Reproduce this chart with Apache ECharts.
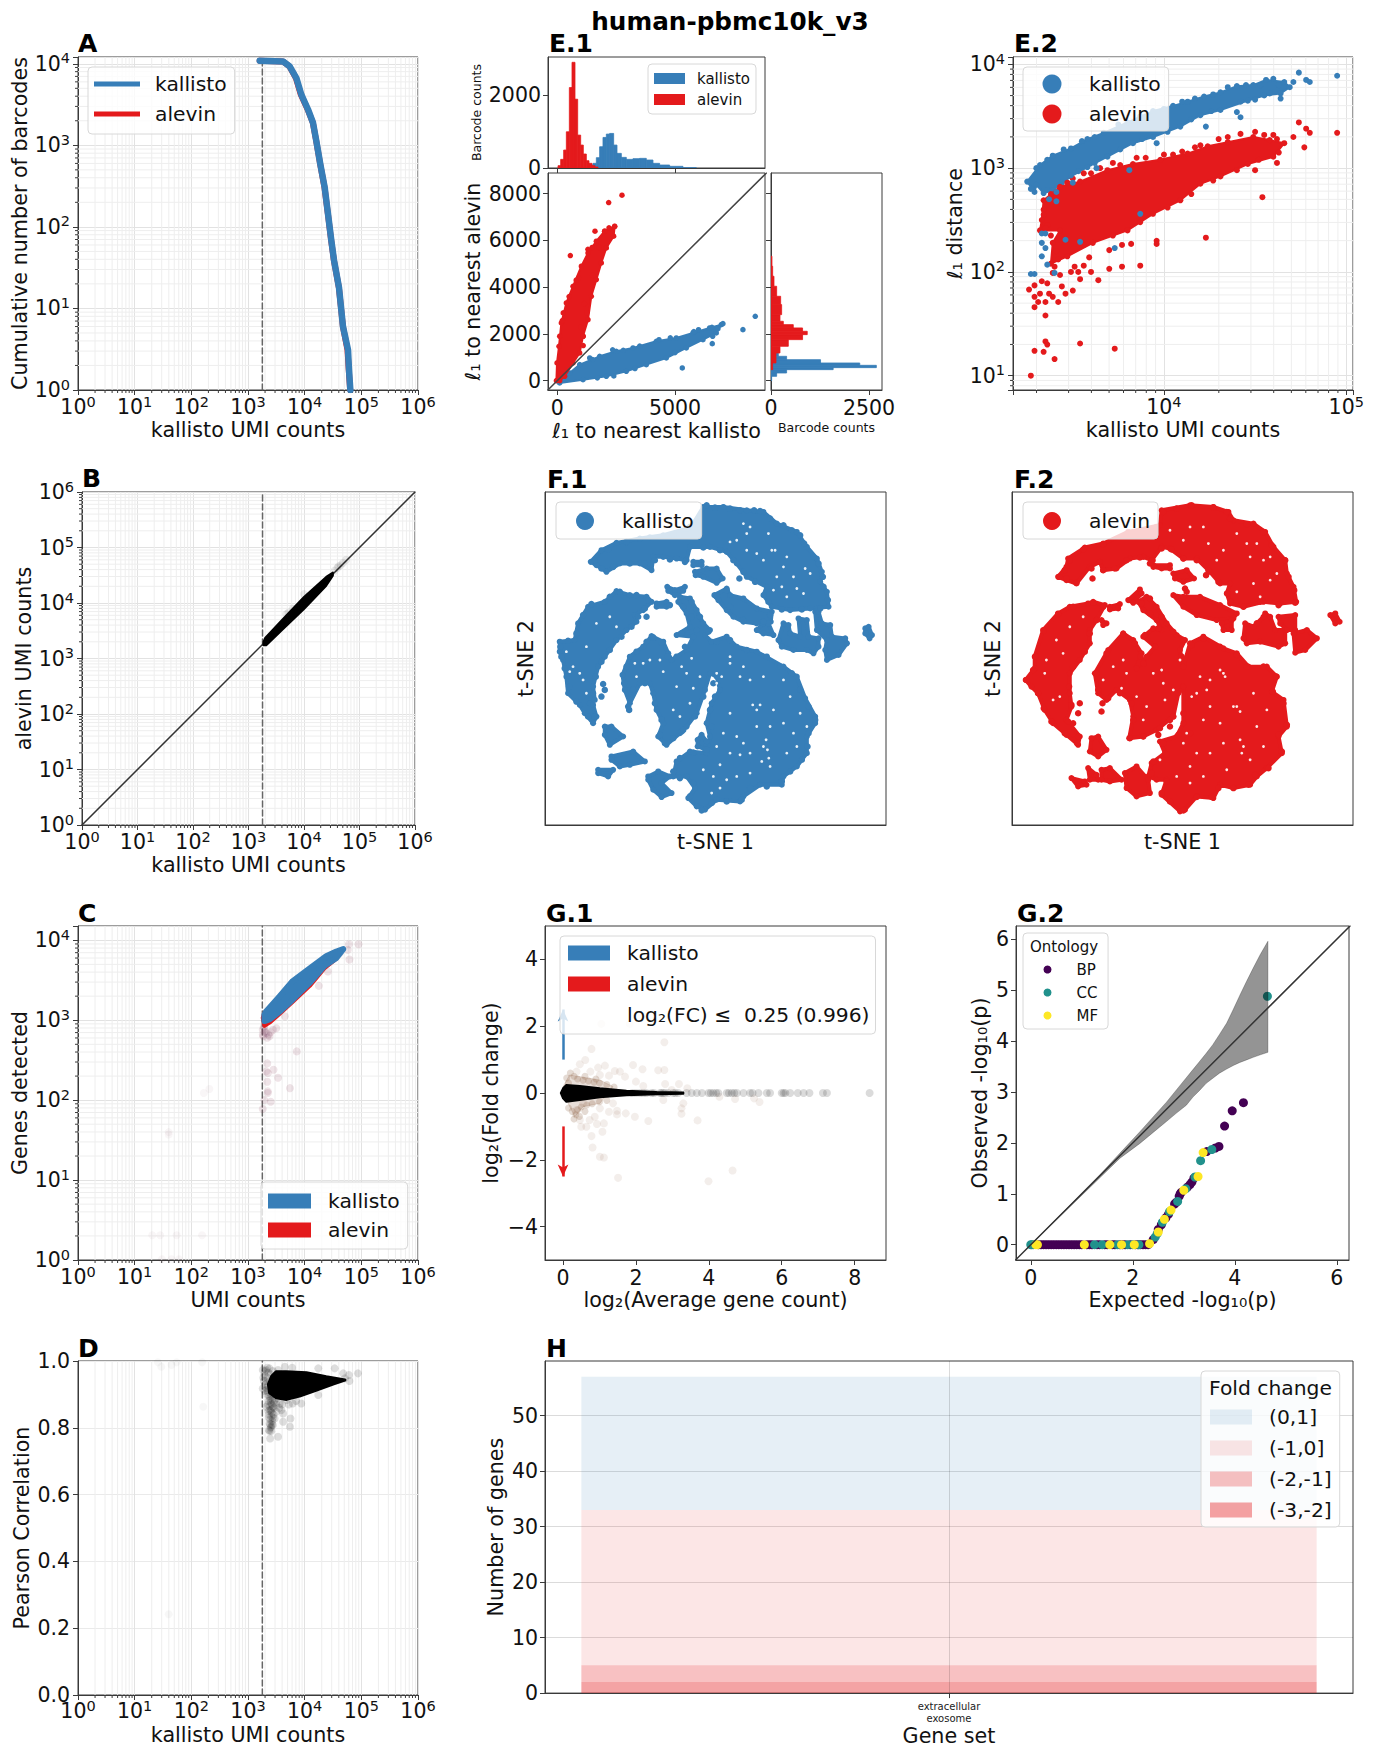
<!DOCTYPE html>
<html><head><meta charset="utf-8">
<style>html,body{margin:0;padding:0;background:#fff}#c{width:1377px;height:1747px}</style>
<script src="https://cdn.jsdelivr.net/npm/echarts@6/dist/echarts.min.js"></script>
</head><body><div id="c"></div>
<script>
const BLUE='#377eb8', RED='#e41a1c', PURPLE='#440154', TEAL='#21918c', YEL='#fde725';
const FONT='DejaVu Sans';
const cutoffUMI=1790;

// ---------- A: cumulative barcodes (UMI, rank)
const aKallisto=[[1607,10880],[4150,10670],[5436,9280],[7130,6686],[8730,4188],[11450,2748],[14030,1890],[16060,1130],[18890,587],[22540,305],[25800,144],[29560,68],[32950,39],[40360,18],[44360,9.5],[47440,6],[58200,3.1],[60570,1.77],[63970,1]];
const aAlevin=[[1607,10880],[4130,10670],[5380,9280],[7000,6686],[8550,4188],[11300,2748],[13950,1890],[16000,1130],[18800,587],[22400,305],[25700,144],[29400,68],[32800,39],[40200,18],[44200,9.5],[47300,6],[57000,3.1],[60000,1.77],[63500,1]];

// ---------- B: kallisto vs alevin band (log10 values)
const bBand=[[3.27,3.24],[3.32,3.24],[3.6,3.51],[4.0,3.89],[4.4,4.31],[4.52,4.49],[4.52,4.55],[4.4,4.47],[4.0,4.11],[3.6,3.69],[3.3,3.37],[3.27,3.3]];
const bFaint=[[4.55,4.58],[4.6,4.63],[4.62,4.66],[4.66,4.68],[4.7,4.72],[4.76,4.78],[3.72,3.83],[3.8,3.9],[3.68,3.8],[4.0,4.16]];

// ---------- C: genes detected (log10 values)
const cBlue=[[3.29,3.07],[3.32,3.11],[3.56,3.3],[3.79,3.49],[4.09,3.65],[4.38,3.8],[4.56,3.86],[4.68,3.89],[4.56,3.78],[4.35,3.68],[4.09,3.47],[3.79,3.26],[3.56,3.11],[3.38,3.01],[3.29,2.99]];
const cRed=[[3.26,3.03],[3.29,3.09],[3.56,3.28],[3.79,3.47],[4.09,3.63],[4.38,3.78],[4.56,3.84],[4.56,3.77],[4.35,3.65],[4.09,3.43],[3.79,3.23],[3.56,3.08],[3.38,2.97],[3.29,2.93]];
const cNear=[[3.26,2.82],[3.32,2.84],[3.38,2.8],[3.29,2.9],[3.44,2.88],[3.5,2.9],[3.65,3.05],[3.27,2.8],[3.3,2.86],[3.36,2.82],[3.4,2.85],[3.28,2.92],[3.34,2.78],[3.26,2.88],[3.34,2.46],[3.32,2.36],[3.35,2.34],[3.45,2.38],[3.53,2.28],[3.34,2.23],[3.35,2.11],[3.35,2.09],[3.4,1.98],[3.29,2.0],[3.26,1.89],[3.74,2.15],[3.86,2.61],[4.78,3.95],[4.95,3.95],[4.76,3.88],[4.79,3.76],[4.62,3.84],[4.41,3.61],[4.25,3.43]];
const cFar=[[2.32,2.14],[2.22,2.09],[1.6,1.6],[1.6,1.57],[1.31,0.31],[1.45,0.31],[1.74,0.31],[2.19,0.31],[1.48,0.01],[1.65,0.01],[1.78,0.01]];

// ---------- D: Pearson correlation (log10 UMI, r)
const dCloud=[[3.42,0.955],[3.5,0.968],[3.68,0.968],[4.03,0.965],[4.38,0.953],[4.71,0.943],[4.5,0.931],[4.21,0.913],[3.91,0.895],[3.68,0.885],[3.5,0.89],[3.38,0.905],[3.36,0.93]];
const dNear=[[3.32,0.973],[3.38,0.978],[3.26,0.973],[3.35,0.908],[3.39,0.883],[3.47,0.883],[3.32,0.863],[3.56,0.873],[3.44,0.863],[3.38,0.853],[3.5,0.848],[3.41,0.833],[3.47,0.828],[3.38,0.813],[3.41,0.803],[3.44,0.808],[3.37,0.793],[3.39,0.768],[3.53,0.773],[3.62,0.818],[3.74,0.803],[3.75,0.828],[3.62,0.843],[3.94,0.873],[4.24,0.898],[4.53,0.978],[4.24,0.978],[3.65,0.983],[3.78,0.98],[4.68,0.963],[4.78,0.958],[4.79,0.94],[4.94,0.963],[4.71,0.948],[3.53,0.973],[3.26,0.918],[3.32,0.913],[3.41,0.898],[3.59,0.853],[3.68,0.883],[3.79,0.873],[3.36,0.88],[3.42,0.87],[3.4,0.85],[3.45,0.84],[3.37,0.83],[3.43,0.82],[3.39,0.81],[3.41,0.79],[3.35,0.87],[3.5,0.87],[3.46,0.86],[3.36,0.85],[3.39,0.89],[3.44,0.9],[3.52,0.89],[3.3,0.97],[3.34,0.98],[3.36,0.965],[3.29,0.96],[3.31,0.93],[3.28,0.94],[3.33,0.92],[3.3,0.91],[3.37,0.895],[3.34,0.9],[3.4,0.875],[3.43,0.885],[3.46,0.875],[3.38,0.865],[3.41,0.855],[3.37,0.84],[3.42,0.845],[3.39,0.825],[3.42,0.81],[3.4,0.8],[3.38,0.79],[3.44,0.83],[3.38,0.94],[3.34,0.95],[3.4,0.96],[3.44,0.97],[3.27,0.95],[3.32,0.94],[3.35,0.925],[3.6,0.87],[3.55,0.86],[3.72,0.87],[3.85,0.88],[3.48,0.95]];
const dFar=[[2.21,0.863],[1.6,0.242],[1.47,0.983],[1.65,0.988],[1.41,0.996],[1.74,0.996],[2.19,0.996]];

// ---------- E.1 histogram bins: edges and barcode counts
const e1TopRedEdges=[28,142,269,382,510,623,750,864,991,1104,1232,1345,1473,1600,1728];
const e1TopRedCounts=[64,237,493,995,2210,2904,1890,904,630,384,200,128,64,27];
const e1TopBlueEdges=[1373,1515,1657,1798,1940,2082,2223,2393,2535,2719,2931,3214,3497,3781,4064,4347,4772,5338,5905];
const e1TopBlueCounts=[82,128,283,584,840,932,950,630,402,292,237,256,265,219,128,82,46,9];
const e1RightRedEdges=[5323,4895,4467,4038,3610,3254,2825,2540,2397,2255,2112,1969,1755,1470,1184,756,471];
const e1RightRedCounts=[25,42,76,144,246,271,229,314,568,805,924,805,441,229,127,42];
const e1RightBlueEdges=[1256,1042,899,756,656,557,471,328,185,0];
const e1RightBlueCounts=[186,398,1263,2263,2686,1585,398,144,17];
// ---------- E.1 main scatter (l1 to nearest kallisto, l1 to nearest alevin)
const e1RedCloud=[[-40,0],[-14,756],[70,1470],[170,2469],[382,3325],[665,4038],[1020,4895],[1303,5465],[1657,5965],[2011,6393],[2436,6607],[2393,6179],[2082,5679],[1869,5037],[1657,4324],[1444,3610],[1303,2611],[1090,1898],[949,1184],[665,756],[312,186],[99,0]];
const e1BlueCloud=[[0,0],[524,328],[949,685],[1798,1042],[2507,1256],[3214,1398],[4205,1684],[5055,1827],[5763,2041],[6471,2255],[6967,2397],[6754,2041],[6188,1755],[5480,1398],[4630,970],[3780,685],[2931,399],[2082,185],[1090,43],[99,-100]];
const e1BlueOut=[[1374,970],[5310,542],[6584,1584],[7887,2183],[8411,2754],[7037,2440],[6825,2226],[6570,2283],[4320,1750],[5800,2100],[3500,1480],[2350,1320],[2400,200],[1500,900],[2800,1300],[4800,1830],[6000,2180],[6600,1900],[5000,1200],[3300,520],[1700,120]];
const e1RedOut=[[2747,7934],[2181,7620],[552,5351],[1600,6393],[2436,6593],[2011,6393],[2195,6536],[212,2569],[1480,5700],[1300,5620],[900,4400],[1250,2900],[1100,1900],[500,3600],[800,4300],[1500,4500],[1150,3300],[100,1900],[1000,2300],[250,2900],[1780,5700],[1100,1500]];

// ---------- E.2 (log10 UMI, log10 l1 distance)
const e2BlueCloud=[[3.32,3.03],[3.39,3.12],[3.49,3.19],[3.58,3.28],[3.67,3.34],[3.8,3.44],[3.94,3.55],[4.05,3.6],[4.13,3.64],[4.22,3.69],[4.31,3.73],[4.4,3.79],[4.49,3.8],[4.56,3.85],[4.66,3.83],[4.69,3.78],[4.64,3.72],[4.55,3.7],[4.46,3.65],[4.31,3.56],[4.2,3.51],[4.09,3.4],[3.94,3.3],[3.83,3.24],[3.69,3.11],[3.58,3.01],[3.49,2.92],[3.39,2.79],[3.34,2.76],[3.3,2.84],[3.29,2.77],[3.25,2.87]];
const e2BlueEdge=[[3.3,3.0],[3.36,3.08],[3.45,3.18],[3.55,3.26],[3.62,3.3],[3.75,3.42],[3.87,3.5],[4.0,3.57],[4.1,3.64],[4.17,3.67],[4.27,3.71],[4.35,3.78],[4.45,3.8],[4.53,3.8],[4.6,3.86],[4.63,3.8],[4.58,3.72],[4.5,3.66],[4.42,3.64],[4.26,3.55],[4.15,3.47],[4.02,3.35],[3.88,3.28],[3.76,3.18],[3.62,3.05],[3.53,2.97],[3.44,2.86],[3.36,2.79],[3.27,2.8]];
const e2BlueOut=[[4.74,3.92],[4.95,3.89],[4.78,3.85],[4.8,3.83],[4.71,3.83],[4.23,3.4],[3.96,3.24],[4.42,3.49],[4.4,3.54],[4.64,3.67],[3.81,2.98],[3.63,3.0],[3.49,2.93],[3.5,2.86],[3.41,2.77],[3.37,2.7],[3.41,2.68],[3.87,2.56],[3.33,2.37],[3.35,2.37],[3.33,2.28],[3.35,2.23],[3.33,2.15],[3.36,2.07],[3.27,1.98],[3.29,1.98],[3.4,1.99],[3.46,2.31],[3.54,2.29],[3.73,2.23]];
const e2RedCloud=[[3.33,2.5],[3.34,2.69],[3.43,2.82],[3.54,2.87],[3.69,2.98],[3.83,3.04],[3.98,3.08],[4.13,3.14],[4.24,3.21],[4.35,3.25],[4.49,3.3],[4.58,3.27],[4.66,3.24],[4.6,3.11],[4.46,3.04],[4.31,2.92],[4.2,2.85],[4.09,2.69],[3.94,2.56],[3.8,2.4],[3.61,2.28],[3.47,2.15],[3.38,2.08],[3.39,2.28],[3.43,2.4],[3.32,2.4]];
const e2RedEdge=[[3.34,2.6],[3.38,2.75],[3.47,2.86],[3.5,2.9],[3.6,2.95],[3.65,3.0],[3.76,3.03],[3.9,3.1],[4.05,3.13],[4.1,3.16],[4.2,3.22],[4.3,3.28],[4.42,3.33],[4.55,3.32],[4.62,3.28],[4.63,3.15],[4.52,3.08],[4.4,2.98],[4.27,2.88],[4.15,2.75],[4.02,2.62],[3.87,2.48],[3.72,2.35],[3.56,2.26],[3.42,2.12],[3.41,2.2],[3.36,2.45],[3.34,2.55],[3.38,2.35],[3.35,2.42]];
const e2RedOut=[[4.74,3.44],[4.78,3.38],[4.8,3.34],[4.95,3.34],[4.71,3.3],[4.77,3.2],[4.54,2.72],[4.23,2.33],[3.96,2.3],[3.96,2.27],[3.82,2.27],[3.77,2.26],[3.7,2.21],[3.59,2.14],[3.87,2.06],[3.77,2.05],[3.7,2.03],[3.56,2.06],[3.51,2.05],[3.6,2.0],[3.49,2.0],[3.53,2.0],[3.43,1.97],[3.64,1.92],[3.54,1.93],[3.44,1.86],[3.5,1.82],[3.46,1.79],[3.42,1.71],[3.39,1.76],[3.36,1.89],[3.33,1.91],[3.29,1.87],[3.26,1.83],[3.29,1.76],[3.32,1.79],[3.37,1.79],[3.29,1.66],[3.35,1.58],[3.35,1.33],[3.36,1.3],[3.54,1.31],[3.73,1.26],[3.29,1.24],[3.34,1.23],[3.4,1.16],[3.27,1.0],[3.31,1.71],[3.35,1.71],[3.39,1.99],[3.4,2.05],[3.72,3.05],[3.85,3.1],[4.0,3.13],[4.17,3.2],[4.35,3.3],[4.5,3.35],[4.6,3.32],[3.56,2.95],[4.5,2.98],[4.62,3.05]];

// ---------- F.1 t-SNE clusters (arbitrary embedding units, y grows downward)
const f1Clusters=[
[[183,305],[215,270],[260,248],[330,235],[400,225],[470,205],[490,190],[520,140],[580,140],[650,150],[700,155],[740,190],[800,215],[830,260],[860,295],[875,335],[870,365],[890,395],[895,440],[840,445],[780,450],[725,440],[700,405],[710,380],[650,350],[620,310],[590,275],[540,260],[480,260],[470,300],[440,295],[400,290],[370,290],[365,330],[330,310],[270,310],[230,335],[200,315]],
[[490,305],[515,305],[515,315],[490,315]],
[[495,335],[530,325],[560,325],[578,355],[560,368],[520,350],[497,345]],
[[412,380],[435,390],[465,380],[460,392],[435,405],[415,392]],
[[553,405],[590,385],[600,405],[640,415],[680,445],[725,455],[722,485],[680,490],[640,485],[610,470],[590,450],[565,420]],
[[380,430],[410,425],[410,440],[380,440]],
[[745,540],[760,490],[775,495],[780,520],[810,530],[805,475],[830,480],[835,530],[865,535],[865,560],[850,580],[830,570],[790,570],[755,560]],
[[855,455],[865,455],[875,490],[900,495],[905,530],[945,535],[950,550],[925,585],[890,600],[885,570],[890,540],[860,510]],
[[1005,505],[1015,500],[1025,525],[1018,535],[1005,520]],
[[680,510],[700,490],[715,490],[730,525],[700,520]],
[[90,545],[135,540],[145,490],[175,440],[225,425],[260,393],[300,405],[350,410],[365,425],[340,450],[315,465],[320,485],[290,510],[260,540],[225,590],[205,620],[190,680],[195,720],[180,730],[190,735],[200,770],[190,790],[165,760],[150,735],[115,700],[110,650],[100,600],[90,575]],
[[365,528],[400,545],[415,580],[425,600],[470,570],[490,530],[440,525],[480,500],[470,460],[445,425],[450,410],[480,415],[500,450],[520,490],[540,510],[525,525],[545,545],[590,530],[620,560],[680,575],[760,620],[800,650],[825,715],[855,770],[855,790],[830,830],[830,880],[800,920],[760,950],[755,975],[690,975],[640,1010],[630,1025],[560,1020],[525,1050],[500,1040],[475,1015],[495,985],[470,950],[430,950],[440,905],[480,875],[530,880],[540,830],[530,790],[545,730],[570,690],[560,650],[540,640],[525,690],[500,760],[470,800],[450,820],[410,855],[385,830],[400,790],[380,750],[370,700],[360,670],[330,670],[300,730],[285,690],[278,645],[300,590],[340,560]],
[[225,800],[245,800],[280,830],[240,855],[225,825]],
[[245,890],[310,875],[345,905],[300,915],[270,920],[245,900]],
[[205,930],[250,930],[235,950],[205,940]],
[[355,950],[385,935],[420,950],[395,970],[425,1000],[395,1012],[370,990],[355,960]],
[[503,840],[515,825],[530,845],[525,868],[503,860]]
];
const f1Dots=[[220,672],[225,690],[215,710],[350,470],[628,355],[298,750],[455,815],[420,435],
[530,135],[555,142],[600,145],[630,150],[672,150],[690,152],[720,175],[760,195],[785,210],[810,225],[822,250],[850,290],[865,310],[878,350],[880,380],[893,420],[870,445],[815,448],[755,448],[715,425],[675,365],[640,335],[610,300],[570,270],[520,262],[465,305],[420,298],[375,300],[345,310],[300,310],[250,320],[215,325],[195,300],[235,268],[290,245],[360,232],[430,222],[480,200],
[92,560],[115,542],[140,520],[160,465],[185,432],[240,410],[270,395],[320,405],[355,420],[345,445],[325,470],[305,500],[275,530],[240,570],[215,605],[198,650],[190,700],[195,770],[175,770],[140,725],[118,680],[105,625],[95,590],
[370,532],[395,548],[413,590],[440,590],[465,560],[455,520],[500,510],[485,470],[460,440],[485,425],[510,470],[535,515],[560,545],[600,540],[650,570],[710,590],[750,620],[785,640],[810,690],[835,740],[855,780],[835,820],[832,860],[815,900],[780,935],[755,965],[710,980],[660,985],[635,1020],[590,1025],[545,1030],[515,1052],[480,1010],[490,970],[450,955],[430,935],[450,895],[490,878],[530,870],[545,800],[540,750],[555,710],[550,670],[520,710],[495,770],[460,810],[430,835],[405,850],[390,825],[395,780],[375,730],[345,670],[310,690],[295,740],[283,670],[290,620],[320,575],[350,545],
[640,480],[700,485],[720,465],[600,440],[560,410],[590,390]];
const f1Gaps=[[640,190],[715,220],[600,245],[650,270],[735,270],[770,290],[800,385],[740,350],[825,325],[755,380],[110,575],[150,640],[160,660],[360,600],[485,595],[430,750],[490,685],[575,650],[630,650],[560,670],[680,750],[730,750],[640,850],[700,860],[630,885],[695,905],[570,915],[590,960],[570,985],[545,1000],[790,820],[830,800],[600,590],[455,620],[400,635],[315,610],[708,840],[712,870],[716,895],[668,735],[690,735],[725,270],[660,200],[560,640],[120,635],
[650,220],[620,240],[680,280],[700,300],[760,320],[790,350],[840,340],[820,400],[770,410],[730,390],[200,490],[240,470],[260,500],[170,560],[130,620],[170,700],[340,610],[390,600],[320,650],[470,640],[440,680],[510,650],[480,730],[450,770],[600,610],[640,620],[660,660],[700,650],[760,660],[780,710],[810,760],[760,790],[720,800],[680,800],[600,760],[580,820],[620,830],[660,880],[600,880],[560,860],[520,930],[550,950],[620,950],[660,940],[720,920],[770,880],[800,860]];

// ---------- F.2 t-SNE clusters
const f2Clusters=[
[[265,350],[290,320],[295,295],[345,262],[400,250],[475,215],[570,195],[575,150],[660,135],[730,140],[775,155],[790,180],[850,190],[885,215],[910,260],[945,300],[950,340],[970,380],[978,425],[930,430],[880,425],[820,440],[780,430],[770,400],[780,370],[750,370],[720,335],[680,295],[640,295],[600,265],[575,260],[545,300],[520,290],[480,295],[440,325],[400,330],[390,305],[360,320],[320,370],[290,360]],
[[550,315],[600,315],[600,325],[575,325],[550,320]],
[[610,340],[650,330],[672,355],[640,365],[615,355]],
[[475,420],[510,388],[515,400],[490,428]],
[[610,405],[640,410],[690,410],[750,435],[800,460],[790,475],[740,480],[680,465],[640,440]],
[[420,440],[450,432],[445,445],[420,448]],
[[825,490],[850,500],[880,470],[885,460],[900,470],[915,510],[945,510],[945,550],[925,560],[870,545],[830,550],[820,535]],
[[925,470],[975,465],[975,510],[950,510],[930,490]],
[[970,520],[1010,510],[1040,535],[1005,570],[975,578]],
[[1080,465],[1095,460],[1108,485],[1095,490]],
[[755,490],[785,480],[785,510],[760,510]],
[[168,660],[195,625],[195,590],[220,510],[265,460],[300,440],[355,430],[370,425],[405,435],[380,480],[360,510],[360,550],[330,600],[300,640],[300,700],[305,740],[290,780],[330,830],[325,855],[290,825],[250,790],[225,750],[205,700],[185,680]],
[[395,480],[410,490],[400,495]],
[[375,640],[415,570],[460,520],[490,540],[515,580],[500,625],[530,590],[555,560],[520,530],[550,505],[575,510],[560,480],[520,450],[505,425],[530,410],[560,440],[590,490],[620,525],[645,540],[630,570],[640,620],[660,550],[700,530],[760,565],[800,580],[835,620],[890,620],[920,650],[905,695],[940,720],[950,800],[925,830],[935,880],[890,925],[860,950],[840,975],[790,985],[750,975],[730,1015],[680,1010],[645,1050],[630,1055],[575,1005],[590,960],[560,960],[535,950],[545,910],[585,880],[570,845],[620,830],[640,790],[640,680],[625,700],[610,770],[560,810],[520,830],[478,835],[490,770],[480,720],[440,690],[410,720],[385,700]],
[[365,835],[385,830],[410,870],[385,890],[360,875]],
[[305,955],[345,965],[350,975],[325,980]],
[[355,925],[380,945],[385,960],[360,960]],
[[395,930],[420,925],[455,960],[420,965],[395,960]],
[[465,940],[500,920],[535,960],[540,1000],[500,1010],[470,985]]
];
const f2Dots=[[330,730],[325,760],[310,790],[398,730],[395,755],[708,345],[600,780],[600,800],[565,825],[660,820],[645,385],[650,395],[540,310],[368,355],[580,850],[590,965],[860,490],
[300,300],[340,268],[400,252],[470,222],[560,200],[580,155],[620,145],[665,135],[730,142],[770,155],[780,175],[830,192],[880,215],[905,255],[945,300],[955,350],[972,390],[975,428],[925,435],[870,425],[820,440],[782,425],[772,400],[745,365],[715,330],[680,300],[640,295],[605,268],[575,265],[548,300],[510,292],[470,300],[435,325],[400,330],[365,325],[320,368],[290,355],[268,350],[285,330],
[170,660],[190,630],[197,590],[222,512],[265,462],[310,440],[370,428],[400,440],[380,480],[360,520],[345,575],[310,620],[298,680],[305,735],[295,785],[325,830],[322,850],[285,820],[245,785],[222,745],[205,700],
[380,640],[410,580],[460,522],[495,550],[512,590],[520,610],[555,560],[525,525],[565,505],[540,460],[515,430],[540,415],[575,470],[610,515],[640,540],[635,590],[665,555],[700,535],[750,560],[800,585],[830,620],[880,620],[918,650],[908,695],[940,730],[950,795],[925,825],[935,875],[895,925],[855,945],[835,975],[790,985],[745,985],[725,1012],[680,1012],[640,1052],[600,1025],[575,1000],[545,940],[550,905],[590,885],[625,825],[640,760],[610,770],[570,805],[520,830],[480,835],[490,780],[485,730],[450,700],[415,715],[385,690]];
const f2Gaps=[[760,270],[715,250],[740,300],[880,300],[840,290],[800,395],[870,410],[225,640],[250,720],[270,710],[575,630],[630,600],[665,710],[720,740],[800,740],[750,790],[810,840],[660,920],[570,900],[720,880],[650,820],[690,650],[720,660],[760,640],[580,670],[500,710],[455,685],[460,600],[790,740],[810,755],[765,650],[750,630],[710,690],[820,860],[815,880],
[640,240],[600,210],[660,200],[700,200],[800,220],[830,250],[860,250],[900,290],[920,340],[900,360],[850,370],[300,500],[260,540],[230,600],[280,580],[340,470],[430,620],[400,660],[470,640],[550,640],[610,690],[585,720],[530,740],[520,780],[680,700],[700,780],[640,850],[680,880],[760,850],[860,800],[880,860],[890,750],[620,950],[660,970],[700,950],[770,930],[840,900],[850,700]];

// ---------- G.1 MA plot (log2 average count, log2 fold change)
const g1Funnel=[[-0.06,0],[0,0.14],[0.09,0.24],[0.46,0.21],[1.01,0.14],[1.74,0.07],[2.57,0.03],[3.3,0.015],[3.3,-0.02],[2.57,-0.04],[1.74,-0.07],[1.01,-0.13],[0.46,-0.21],[0.09,-0.26],[0,-0.16]];
const g1Halo=[[0,0.19],[0.18,0.54],[0.46,0.49],[1.01,0.39],[1.37,0.19],[1.01,-0.31],[0.55,-0.41],[0.32,-0.71],[0.14,-0.31]];
const g1HaloDots=[[0.1,0.45],[0.2,0.6],[0.3,0.5],[0.4,0.42],[0.55,0.38],[0.7,0.36],[0.85,0.32],[1.0,0.3],[1.2,0.25],[1.4,0.18],[0.15,-0.45],[0.25,-0.55],[0.35,-0.65],[0.4,-0.5],[0.5,-0.42],[0.65,-0.36],[0.8,-0.32],[1.0,-0.26],[1.2,-0.22],[0.3,-0.78],[0.45,-0.7],[0.6,-0.55],[0.15,0.3],[0.6,0.5],[0.9,0.42]];
const g1Faint=[[0.78,1.32],[2.78,1.52],[1.05,2.07],[1.83,2.07],[0.61,0.99],[0.46,0.86],[1.15,0.82],[0.96,0.76],[1.92,0.84],[2.18,0.71],[2.61,0.68],[2.78,0.69],[1.42,0.66],[1.56,0.64],[0.37,0.64],[0.75,0.64],[1.26,0.52],[1.7,0.49],[1.01,0.54],[2.0,0.34],[2.8,0.27],[3.18,0.27],[2.2,0.21],[3.41,0.14],[2.98,0.09],[0.5,-1.01],[0.64,-1.01],[0.93,-0.93],[1.12,-0.91],[1.08,-1.16],[0.78,-1.29],[0.81,-1.63],[1.01,-1.91],[1.12,-1.93],[1.51,-2.54],[3.99,-2.64],[4.65,-2.32],[3.69,-0.82],[2.34,-0.84],[1.97,-0.71],[3.25,-0.46],[3.25,-0.62],[3.3,-0.31],[1.48,-0.53],[1.48,-0.64],[1.72,-0.61],[1.26,-0.56],[0.87,-0.71],[0.46,-0.81],[0.73,-0.81],[5.39,-0.27],[4.72,-0.18],[2.75,-0.21],[5.24,-0.16],[4.29,-0.11],[1.37,-0.31],[1.01,-0.46],[0.37,-0.51],[0.55,-0.31]];
const g1Strip=[1.9,2.0,2.11,2.2,2.29,2.43,2.5,2.66,2.7,2.75,2.8,2.89,3.02,3.08,3.16,3.39,3.53,3.67,3.81,3.99,4.05,4.12,4.2,4.26,4.49,4.55,4.63,4.7,4.77,4.95,5.13,5.2,5.36,5.59,5.68,6.0,6.05,6.1,6.23,6.44,6.6,6.76,7.13,7.24,8.41];
const g1Up=[[0,1],[0,2.5]];
const g1Down=[[0,-1],[0,-2.5]];

// ---------- G.2 QQ plot (expected, observed)
const g2BP=[[0.15,0],[0.2,0],[0.25,0],[0.3,0],[0.35,0],[0.4,0],[0.45,0],[0.5,0],[0.55,0],[0.6,0],[0.65,0],[0.7,0],[0.75,0],[0.8,0],[0.85,0],[0.9,0],[0.95,0],[1.0,0],[1.1,0],[1.15,0],[1.2,0],[1.3,0],[1.35,0],[1.45,0],[1.5,0],[1.6,0],[1.65,0],[1.75,0],[1.8,0],[1.85,0],[1.95,0],[2.05,0],[2.1,0],[2.15,0],[2.2,0],[2.25,0],[2.3,0],[2.4,0.1],[2.5,0.3],[2.56,0.39],[2.65,0.53],[2.7,0.6],[2.82,0.8],[2.85,0.83],[2.91,0.95],[2.93,1.0],[2.95,1.03],[3.07,1.13],[3.12,1.18],[3.16,1.23],[3.2,1.31],[3.45,1.83],[3.62,1.9],[3.69,1.93],[3.8,2.33],[3.95,2.63],[4.17,2.79]];
const g2CC=[[0,0],[0.02,0],[0.05,0],[1.25,0],[1.4,0],[1.7,0],[1.9,0],[2.0,0],[2.12,0],[2.44,0.15],[2.48,0.22],[2.58,0.44],[2.72,0.65],[2.88,0.85],[3.04,1.1],[3.22,1.33],[3.33,1.65],[3.55,1.87],[4.64,4.88]];
const g2MF=[[0.1,0],[0.13,0],[1.05,0],[1.55,0],[1.78,0],[2.03,0],[2.33,0.02],[2.5,0.25],[2.62,0.5],[2.75,0.68],[3.0,1.07],[3.28,1.34],[3.38,1.81]];
const g2Band=[[0,0],[1.36,1.38],[1.75,1.8],[2.14,2.22],[2.66,2.8],[3.05,3.28],[3.18,3.44],[3.31,3.6],[3.44,3.76],[3.57,3.93],[3.7,4.13],[3.84,4.35],[3.97,4.62],[4.1,4.9],[4.23,5.17],[4.36,5.43],[4.5,5.7],[4.65,5.96],[4.65,3.78],[4.5,3.73],[4.36,3.68],[4.23,3.63],[4.1,3.58],[3.97,3.52],[3.84,3.45],[3.7,3.37],[3.57,3.27],[3.44,3.17],[3.31,3.03],[3.18,2.9],[3.05,2.74],[2.85,2.58],[2.66,2.42],[2.14,1.99],[1.75,1.7],[1.36,1.32]];

// ---------- H: gene-set counts by fold-change bin
const hCategories=['extracellular\nexosome'];
const hBins=['(-3,-2]','(-2,-1]','(-1,0]','(0,1]'];
const hValues=[2,3,28,24];
const hColors=['rgba(228,26,28,.4)','rgba(228,26,28,.27)','rgba(228,26,28,.11)','rgba(55,126,184,.125)'];

// ---------- helpers
const unlog=p=>p.map(([a,b])=>[Math.pow(10,a),Math.pow(10,b)]);
const unlogX=p=>p.map(([a,b])=>[Math.pow(10,a),b]);
const series=[], grids=[], xAxes=[], yAxes=[], legends=[];
const NAME=20.7, TICK=20.5, LEG=20.3;
const supLabel=v=>{const e=Math.log10(v),r=Math.round(e);return Math.abs(e-r)>1e-6?'':'{b|10}{s|'+r+'}';};
const rich={b:{fontSize:TICK,fontFamily:FONT,color:'#111'},s:{fontSize:14.5,fontFamily:FONT,color:'#111',padding:[0,0,11,0]}};
const GRID='#e2e2e2', MINOR='#eeeeee', SPINE='#3a3a3a';
function addGrid(l,t,r,b){grids.push({left:l,top:t,width:r-l,height:b-t,show:true,borderColor:SPINE,borderWidth:1,backgroundColor:'transparent',containLabel:false});return grids.length-1;}
function axisBase(name,gap,extra){return Object.assign({name:name,nameLocation:'middle',nameGap:gap,nameTextStyle:{fontFamily:FONT,fontSize:NAME,color:'#111'},
  axisLine:{show:true,onZero:false,lineStyle:{color:SPINE,width:1}},axisTick:{show:true,length:5,lineStyle:{color:SPINE,width:1}},
  axisLabel:{show:true,fontFamily:FONT,fontSize:TICK,color:'#111',margin:7},splitLine:{show:false},minorTick:{show:false},minorSplitLine:{show:false}},extra||{});}
function logAxis(g,name,gap,min,max,grid,which,margin){return axisBase(name,gap,{type:'log',logBase:10,min:min,max:max,gridIndex:g,
  axisLabel:{show:true,formatter:supLabel,rich:rich,margin:margin!==undefined?margin:(which==='x'?4:8),fontFamily:FONT,fontSize:TICK,color:'#111',hideOverlap:false,showMinLabel:true,showMaxLabel:true},
  splitLine:{show:grid,lineStyle:{color:GRID,width:1}}});}
function linAxis(g,name,gap,min,max,ticks,fmt,labels){return axisBase(name,gap,{type:'value',min:min,max:max,gridIndex:g,
  axisTick:{show:true,length:5,lineStyle:{color:SPINE,width:1},customValues:ticks},
  axisLabel:{show:labels!==false,customValues:ticks,fontFamily:FONT,fontSize:TICK,color:'#111',margin:7,formatter:fmt||(v=>String(v))}});}
function minorVals(lo,hi){const o=[];for(let e=-1;e<7;e++)for(let m=2;m<10;m++){const v=m*Math.pow(10,e);if(v>lo&&v<hi)o.push(v);}return o;}
function minorX(g,xmin,xmax,ymin,ymax,grid){series.push({type:'custom',name:'minor',xAxisIndex:g,yAxisIndex:g,z:1,silent:true,clip:false,animation:false,
  data:minorVals(xmin,xmax).map(v=>[v,ymin]),renderItem:(p,api)=>{const a=api.coord([api.value(0),ymin]),b=api.coord([api.value(0),ymax]);const c=[{type:'line',shape:{x1:a[0],y1:a[1],x2:a[0],y2:a[1]+3},style:{stroke:SPINE,lineWidth:1}}];
  if(grid)c.push({type:'line',shape:{x1:a[0],y1:a[1],x2:b[0],y2:b[1]},style:{stroke:MINOR,lineWidth:1}});return {type:'group',children:c};}});}
function minorY(g,xmin,xmax,ymin,ymax,grid){series.push({type:'custom',name:'minor',xAxisIndex:g,yAxisIndex:g,z:1,silent:true,clip:false,animation:false,
  data:minorVals(ymin,ymax).map(v=>[xmin,v]),renderItem:(p,api)=>{const a=api.coord([xmin,api.value(1)]),b=api.coord([xmax,api.value(1)]);const c=[{type:'line',shape:{x1:a[0]-3,y1:a[1],x2:a[0],y2:a[1]},style:{stroke:SPINE,lineWidth:1}}];
  if(grid)c.push({type:'line',shape:{x1:a[0],y1:a[1],x2:b[0],y2:b[1]},style:{stroke:MINOR,lineWidth:1}});return {type:'group',children:c};}});}
function poly(name,g,pts,color,z,opacity,sw){series.push({type:'custom',name:name,xAxisIndex:g,yAxisIndex:g,z:z,silent:true,clip:true,animation:false,data:pts,
  renderItem:(p,api)=>p.dataIndex!==0?null:{type:'polygon',shape:{points:pts.map(q=>api.coord(q))},style:{fill:color,stroke:color,lineWidth:sw===undefined?2:sw,lineJoin:'round',opacity:opacity===undefined?1:opacity}}});}
function dots(name,g,pts,color,size,z,opacity){series.push({type:'scatter',name:name,xAxisIndex:g,yAxisIndex:g,z:z,silent:true,animation:false,data:pts,symbol:'circle',symbolSize:size,itemStyle:{color:color,opacity:opacity===undefined?1:opacity,borderWidth:0},clip:true});}
function seg(name,g,pts,color,width,z,dash){series.push({type:'line',name:name,xAxisIndex:g,yAxisIndex:g,z:z,silent:true,animation:false,data:pts,symbol:'none',color:color,lineStyle:{color:color,width:width,type:dash?[6,3]:'solid',cap:'round',join:'round'},clip:true});}
function hist(name,g,edges,counts,color,z,horizontal){const d=counts.map((c,i)=>[edges[i],edges[i+1],c]);series.push({type:'custom',name:name,xAxisIndex:g,yAxisIndex:g,z:z,silent:true,clip:true,animation:false,data:d,encode:horizontal?{x:2,y:[0,1]}:{x:[0,1],y:2},
  renderItem:(p,api)=>{const lo=api.value(0),hi=api.value(1),c=api.value(2);const a=horizontal?api.coord([0,lo]):api.coord([lo,0]);const b=horizontal?api.coord([c,hi]):api.coord([hi,c]);
  return {type:'rect',shape:{x:Math.min(a[0],b[0]),y:Math.min(a[1],b[1]),width:Math.abs(b[0]-a[0]),height:Math.abs(b[1]-a[1])},style:{fill:color,stroke:color,lineWidth:0.8}};}});}
function legendBox(o){legends.push(Object.assign({orient:'vertical',z:20,backgroundColor:'rgba(255,255,255,.8)',borderColor:'#d8d8d8',borderWidth:1,borderRadius:4,selectedMode:false,inactiveColor:'#ccc',
  textStyle:{fontFamily:FONT,fontSize:LEG,color:'#111'}},o));}

// ---------- A
const gA=addGrid(78,57,418,390);
xAxes.push(logAxis(gA,'kallisto UMI counts',29,1,1e6,true,'x'));
yAxes.push(logAxis(gA,'Cumulative number of barcodes',48,1,12100,true,'y'));
minorX(gA,1,1e6,1,12100,true);minorY(gA,1,1e6,1,12100,true);
seg('cut',gA,[[cutoffUMI,1],[cutoffUMI,12100]],'#666',1.5,3,true);
seg('alevin',gA,aAlevin,RED,6,4);seg('kallisto',gA,aKallisto,BLUE,6.5,5);
legendBox({left:88,top:67,padding:[7,8,10,6],itemWidth:46,itemHeight:5,itemGap:10,data:[{name:'kallisto',icon:'rect'},{name:'alevin',icon:'rect'}],textStyle:{fontFamily:FONT,fontSize:LEG,color:'#111',padding:[0,0,0,10]}});

// ---------- B
const gB=addGrid(82,492,415,825);
xAxes.push(logAxis(gB,'kallisto UMI counts',29,1,1e6,true,'x'));
yAxes.push(logAxis(gB,'alevin UMI counts',48,1,1e6,true,'y'));
minorX(gB,1,1e6,1,1e6,true);minorY(gB,1,1e6,1,1e6,true);
seg('cut',gB,[[cutoffUMI,1],[cutoffUMI,1e6]],'#666',1.5,3,true);
seg('identity',gB,[[1,1],[1e6,1e6]],'#333',1.5,3);
dots('faint',gB,unlog(bFaint),'#000',8,4,.08);
poly('band',gB,unlog(bBand),'#000',5,1,2);

// ---------- C
const gC=addGrid(78,926,418,1260);
xAxes.push(logAxis(gC,'UMI counts',29,1,1e6,true,'x'));
yAxes.push(logAxis(gC,'Genes detected',48,1,15100,true,'y'));
minorX(gC,1,1e6,1,15100,true);minorY(gC,1,1e6,1,15100,true);
seg('cut',gC,[[cutoffUMI,1],[cutoffUMI,15100]],'#666',1.5,3,true);
dots('faintR',gC,unlog(cNear),RED,8,4,.07);dots('faintB',gC,unlog(cNear),'#3a4f8a',8,4,.07);
dots('farR',gC,unlog(cFar),RED,8,4,.025);dots('farB',gC,unlog(cFar),'#3a4f8a',8,4,.025);
poly('alevin',gC,unlog(cRed),RED,5,1,4);poly('kallisto',gC,unlog(cBlue),BLUE,6,1,6);
legendBox({left:261,top:1182,padding:[9,8,9,7],itemWidth:43,itemHeight:15,itemGap:9,data:[{name:'kallisto',icon:'rect'},{name:'alevin',icon:'rect'}],textStyle:{fontFamily:FONT,fontSize:LEG,color:'#111',padding:[0,0,0,12]}});

// ---------- D
const gD=addGrid(78,1361,418,1695);
xAxes.push(logAxis(gD,'kallisto UMI counts',29,1,1e6,true,'x',3));
yAxes.push(Object.assign(axisBase('Pearson Correlation',46),{type:'value',min:0,max:1,interval:.2,gridIndex:gD,
  axisLabel:{fontFamily:FONT,fontSize:TICK,color:'#111',margin:8,formatter:v=>v.toFixed(1)},splitLine:{show:true,lineStyle:{color:'#eaeaea'}}}));
minorX(gD,1,1e6,0,1,true);
seg('cut',gD,[[cutoffUMI,0],[cutoffUMI,1]],'#666',1.5,3,true);
dots('faint',gD,unlogX(dNear),'#000',8,4,.13);
dots('far',gD,unlogX(dFar),'#000',8,4,.03);
poly('cloud',gD,unlogX(dCloud),'#000',5,1,3);

// ---------- E.1 top
const gE1t=addGrid(548,57,765,168);
xAxes.push(linAxis(gE1t,'',0,-397,8825,[0,5000],null,false));
yAxes.push(linAxis(gE1t,'Barcode counts',65,0,3050,[0,2000]));
yAxes[yAxes.length-1].nameTextStyle.fontSize=12.5;
hist('kallisto',gE1t,e1TopBlueEdges,e1TopBlueCounts,BLUE,3);
hist('alevin',gE1t,e1TopRedEdges,e1TopRedCounts,RED,4);
legendBox({left:648,top:64,padding:[7,6,7,6],itemWidth:31,itemHeight:11,itemGap:6,data:[{name:'kallisto',icon:'rect'},{name:'alevin',icon:'rect'}],textStyle:{fontFamily:FONT,fontSize:15,color:'#111',padding:[0,0,0,7]}});

// ---------- E.1 main
const gE1=addGrid(548,173,765,390);
xAxes.push(linAxis(gE1,'ℓ₁ to nearest kallisto',30,-397,8825,[0,5000]));
yAxes.push(linAxis(gE1,'ℓ₁ to nearest alevin',65,-400,8885,[0,2000,4000,6000,8000]));
poly('kallisto-cloud',gE1,e1BlueCloud,BLUE,3);poly('alevin-cloud',gE1,e1RedCloud,RED,4);
dots('kallisto-out',gE1,e1BlueCloud.concat(e1BlueOut),BLUE,5.5,3);dots('alevin-out',gE1,e1RedCloud.concat(e1RedOut),RED,5.5,4);
seg('identity',gE1,[[-400,-400],[8885,8885]],'#444',1.5,5);

// ---------- E.1 right
const gE1r=addGrid(771,173,882,390);
xAxes.push(linAxis(gE1r,'Barcode counts',31,0,2830,[0,2500]));
xAxes[xAxes.length-1].nameTextStyle.fontSize=12.5;
yAxes.push(linAxis(gE1r,'',0,-400,8885,[0,2000,4000,6000,8000],null,false));
hist('kallisto',gE1r,e1RightBlueEdges.slice().reverse(),e1RightBlueCounts.slice().reverse(),BLUE,3,true);
hist('alevin',gE1r,e1RightRedEdges.slice().reverse(),e1RightRedCounts.slice().reverse(),RED,4,true);

// ---------- E.2
const gE2=addGrid(1013,57,1353,390);
xAxes.push(logAxis(gE2,'kallisto UMI counts',29,1486,108900,true,'x'));
yAxes.push(logAxis(gE2,'ℓ₁ distance',48,7.28,11770,true,'y'));
minorX(gE2,1486,108900,7.28,11770,true);minorY(gE2,1486,108900,7.28,11770,true);
poly('kallisto-cloud',gE2,unlog(e2BlueCloud),BLUE,3);
dots('kallisto-edge',gE2,unlog(e2BlueCloud.concat(e2BlueEdge)),BLUE,6,3);
poly('alevin-cloud',gE2,unlog(e2RedCloud),RED,4);
dots('alevin-out',gE2,unlog(e2RedCloud.concat(e2RedEdge,e2RedOut)),RED,6,4);
dots('kallisto-out',gE2,unlog(e2BlueOut),BLUE,6,5);
legendBox({left:1023,top:67,padding:[7,8,7,19.5],itemWidth:46,itemHeight:19,itemGap:10,data:[{name:'kallisto',icon:'circle'},{name:'alevin',icon:'circle'}],textStyle:{fontFamily:FONT,fontSize:LEG,color:'#111',padding:[0,0,0,9]}});

// ---------- F
function tsne(l,r,title,clusters,d,gaps,color,xmin,xmax,legendName,legendLeft){
  const g=addGrid(l,492,r,825);
  xAxes.push(axisBase('t-SNE 1',6,{type:'value',min:xmin,max:xmax,gridIndex:g,axisTick:{show:false},axisLabel:{show:false}}));
  yAxes.push(axisBase('t-SNE 2',9,{type:'value',min:95,max:1096,inverse:true,gridIndex:g,axisTick:{show:false},axisLabel:{show:false}}));
  clusters.forEach(c=>{poly(title,g,c,color,3,1,4);dots(title,g,c,color,6,3);});
  dots(title,g,d,color,6.5,3);
  dots('gaps',g,gaps,'#fff',2.8,4,.9);
  legendBox({left:legendLeft,top:502,padding:[9,8,8,20],itemWidth:46,itemHeight:18,data:[{name:legendName,icon:'circle'}],textStyle:{fontFamily:FONT,fontSize:LEG,color:'#111',padding:[0,0,0,9]}});
}
tsne(545,886,'kallisto-tsne',f1Clusters,f1Dots,f1Gaps,BLUE,46,1067,'kallisto',556);
tsne(1012,1353,'alevin-tsne',f2Clusters,f2Dots,f2Gaps,RED,127,1148,'alevin',1023);

// ---------- G.1
const gG1=addGrid(545,926,886,1260);
const minus=v=>String(v).replace('-','\u2212');
xAxes.push(linAxis(gG1,'log₂(Average gene count)',29,-0.495,8.86,[0,2,4,6,8]));
yAxes.push(linAxis(gG1,'log₂(Fold change)',44,-5,5,[-4,-2,0,2,4],minus));
dots('faint',gG1,g1Faint,'#8a5a3a',8,3,.1);
dots('strip',gG1,g1Strip.map(x=>[x,0]),'#222',8,3,.16);
poly('halo',gG1,g1Halo,'#8a5a3a',3,.2,1);
dots('haloDots',gG1,g1HaloDots,'#8a5a3a',7,3,.22);
poly('funnel',gG1,g1Funnel,'#000',4,1,2);
function arrow(g,pts,color){series.push({type:'line',name:'arrow',xAxisIndex:g,yAxisIndex:g,z:5,silent:true,animation:false,data:[],markLine:{silent:true,animation:false,symbol:['none','arrow'],symbolSize:[8,12],label:{show:false},lineStyle:{color:color,width:2.5,type:'solid'},data:[[{coord:pts[0]},{coord:pts[1]}]]}});}
arrow(gG1,g1Up,BLUE);arrow(gG1,g1Down,RED);
const fcLabel='log₂(FC) ≤  0.25 (0.996)';
series.push({type:'scatter',name:fcLabel,xAxisIndex:gG1,yAxisIndex:gG1,data:[],itemStyle:{color:'rgba(0,0,0,0)'}});
legendBox({left:560,top:936,padding:[7,6,9,8],itemWidth:42,itemHeight:15,itemGap:11,data:[{name:'kallisto',icon:'rect'},{name:'alevin',icon:'rect'},{name:fcLabel,icon:'rect'}],textStyle:{fontFamily:FONT,fontSize:LEG,color:'#111',padding:[0,0,0,12]}});

// ---------- G.2
const gG2=addGrid(1016,926,1349,1260);
xAxes.push(linAxis(gG2,'Expected -log₁₀(p)',29,-0.29,6.24,[0,2,4,6]));
yAxes.push(linAxis(gG2,'Observed -log₁₀(p)',26,-0.3,6.26,[0,1,2,3,4,5,6]));
dots('BP',gG2,g2BP,PURPLE,9,3);dots('CC',gG2,g2CC,TEAL,9,4);dots('MF',gG2,g2MF,YEL,9,5);
poly('band',gG2,g2Band,'#000',6,.42,0.6);
seg('identity',gG2,[[-0.3,-0.3],[6.26,6.26]],'#333',1.5,7);
legendBox({left:1023,top:933,padding:[29,10,6,20.5],itemWidth:36,itemHeight:8,itemGap:8,data:[{name:'BP',icon:'circle'},{name:'CC',icon:'circle'},{name:'MF',icon:'circle'}],textStyle:{fontFamily:FONT,fontSize:15,color:'#111',padding:[0,0,0,6]}});

// ---------- H
const gH=addGrid(545,1361,1353,1695);
xAxes.push(axisBase('Gene set',31,{type:'category',gridIndex:gH,data:hCategories,axisTick:{show:true,length:5,alignWithLabel:true,lineStyle:{color:SPINE}},
  axisLabel:{fontFamily:FONT,fontSize:10,lineHeight:12,color:'#222',margin:7,interval:0}}));
yAxes.push(axisBase('Number of genes',39,{type:'value',min:0,max:59.85,interval:10,gridIndex:gH,nameMoveOverlap:false,splitLine:{show:true,lineStyle:{color:'rgba(0,0,0,.14)'}},
  axisTick:{show:true,length:5,lineStyle:{color:SPINE},customValues:[0,10,20,30,40,50]},axisLabel:{customValues:[0,10,20,30,40,50],fontFamily:FONT,fontSize:TICK,color:'#111',margin:7}}));
hBins.forEach((n,i)=>series.push({type:'bar',name:n,xAxisIndex:gH,yAxisIndex:gH,stack:'h',barWidth:'91%',data:[hValues[i]],z:3,silent:true,animation:false,itemStyle:{color:hColors[i]},
  markLine:i?undefined:{silent:true,animation:false,symbol:'none',label:{show:false},lineStyle:{color:'rgba(0,0,0,.14)',type:'solid',width:1},data:[{xAxis:0}]}}));
legendBox({left:1201,top:1371,padding:[36,8,7,9],itemWidth:42,itemHeight:15,itemGap:11,data:[{name:'(0,1]',icon:'rect'},{name:'(-1,0]',icon:'rect'},{name:'(-2,-1]',icon:'rect'},{name:'(-3,-2]',icon:'rect'}],textStyle:{fontFamily:FONT,fontSize:LEG,color:'#111',padding:[0,0,0,12]}});

// ---------- titles
const labels=[['A',78,31],['B',82,466],['C',78,901],['D',78,1336],['E.1',549,31],['E.2',1014,31],['F.1',547,467],['F.2',1014,467],['G.1',546,901],['G.2',1017,901],['H',546,1336]];
const titles=labels.map(([t,l,y])=>({text:t,left:l,top:y,padding:0,z:30,textStyle:{fontFamily:FONT,fontWeight:'bold',fontSize:25,color:'#000'}}));
titles.push({text:'human-pbmc10k_v3',left:730,textAlign:'center',top:9,padding:0,z:30,textStyle:{fontFamily:FONT,fontWeight:'bold',fontSize:24.7,color:'#000'}});
titles.push({text:'Ontology',left:1030,top:939,padding:0,z:30,textStyle:{fontFamily:FONT,fontWeight:'normal',fontSize:15,color:'#111'}});
titles.push({text:'Fold change',left:1209,top:1378,padding:0,z:30,textStyle:{fontFamily:FONT,fontWeight:'normal',fontSize:20.3,color:'#111'}});

const chart=echarts.init(document.getElementById('c'),null,{renderer:'svg',width:1377,height:1747});
chart.setOption({animation:false,backgroundColor:'#fff',textStyle:{fontFamily:FONT},title:titles,legend:legends,grid:grids,xAxis:xAxes,yAxis:yAxes,series:series,tooltip:{show:false}});
</script></body></html>
